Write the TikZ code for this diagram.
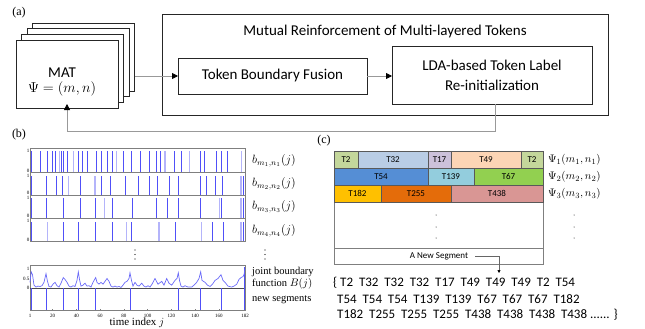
\documentclass[tikz,border=0pt]{standalone}
\usepackage{fontspec}
\setmainfont{Liberation Serif}
\newfontfamily\carl{Carlito}
\usetikzlibrary{arrows.meta,calc}
\definecolor{cT2}{HTML}{C4D79B}
\definecolor{cT32}{HTML}{B9CDE5}
\definecolor{cT17}{HTML}{CCC1DA}
\definecolor{cT49}{HTML}{FCD5B5}
\definecolor{cT54}{HTML}{558ED5}
\definecolor{cT139}{HTML}{93CDDD}
\definecolor{cT67}{HTML}{92D050}
\definecolor{cT182}{HTML}{FFC000}
\definecolor{cT255}{HTML}{E46C0A}
\definecolor{cT438}{HTML}{D99694}
\definecolor{spikeblue}{HTML}{5050F8}
\definecolor{lspikeblue}{HTML}{B4B4FA}
\definecolor{curveblue}{HTML}{6A6AF8}
\definecolor{frame}{HTML}{7F7F7F}
\tikzset{
  box/.style={draw=black!85, line width=0.8pt, fill=white, inner sep=0pt, outer sep=0pt},
  sans/.style={font=\carl\fontsize{15}{20}\selectfont},
  feed/.style={draw=black!40, line width=0.8pt, -{Triangle[black,length=6pt,width=6pt]}},
  cell/.style={draw=black!65, line width=0.5pt, inner sep=0pt, outer sep=0pt, minimum height=17pt, font=\carl\fontsize{9}{10}\selectfont},
  panel/.style={draw=frame, line width=0.6pt},
  tick/.style={font=\fontsize{5}{6}\selectfont, inner sep=0.5pt},
  blab/.style={anchor=west, font=\fontsize{12}{14}\selectfont, inner sep=0pt},
  slab/.style={anchor=west, font=\fontsize{10.5}{12}\selectfont, inner sep=0pt},
  plab/.style={font=\fontsize{12}{14}\selectfont, inner sep=0pt},
  toks/.style={anchor=west, font=\carl\fontsize{13}{14}\selectfont, inner sep=0pt}
}
\newcommand\spk[3]{\fill[spikeblue] (#1-0.5,#2) rectangle (#1+0.5,#3);}
\newcommand\lspk[3]{\fill[lspikeblue] (#1-0.6,#2) rectangle (#1+0.6,#3);}
\begin{document}
\begin{tikzpicture}[x=1pt,y=-1pt]
\useasboundingbox (0,0) rectangle (645,329);
% ---------------- (a)
\node[plab] (la) at (19,13) {(a)};
\node[box, minimum width=102pt, minimum height=68pt] (mat3) at (83.5,57) {};
\node[box, minimum width=102pt, minimum height=68pt] (mat2) at (78,62.6) {};
\node[box, minimum width=102pt, minimum height=68pt] (mat1) at (72.5,68.3) {};
\node[box, minimum width=102pt, minimum height=68pt, align=center] (mat) at (67,74) {};
\node[sans, inner sep=0pt] (mattxt) at (62,73) {MAT};
\node[font=\fontsize{14}{15}\selectfont, inner sep=0pt] (psi) at (62,89) {$\Psi=(m,n)$};
\node[box, minimum width=446pt, minimum height=101pt] (outer) at (385,64.5) {};
\node[sans] (title) at (385,32) {Mutual Reinforcement of Multi-layered Tokens};
\node[box, minimum width=189pt, minimum height=36pt, sans] (fusion) at (272.5,76) {Token Boundary Fusion};
\node[box, minimum width=200pt, minimum height=58pt, sans, align=center] (lda) at (492,75) {LDA-based Token Label\\Re-initialization};
\draw[feed] (fusion.west -| mat3.east) -- (fusion.west);
\draw[feed] (fusion.east) -- (fusion.east -| lda.west);
\coordinate (fb) at (67,131);
\draw[feed, shorten >=-4pt] ($(lda.south)+(3,0)$) |- (fb) -- (mat.south);
% ---------------- (b)
\node[plab] (lb) at (19,135) {(b)};
% panels
\foreach \t/\b [count=\i] in {148/172.7, 172.7/195, 195/218.3, 218.3/241.7}{
  \draw[panel] (30,\t) rectangle (245,\b);
  \node[tick, anchor=east] (p\i one) at (30,\t+3) {1};
  \node[tick, anchor=east] (p\i zero) at (30,\b-2) {0};
}
\foreach \x in {59.5,73.3,116.5,165,189.3,241.5}{\lspk{\x}{172.2}{150.5}}
\foreach \x in {31.7,40,47.2,52,55.5,61.5,63.3,67.7,78.3,82.3,87.3,96,101.7,107,112,123.5,131.5,140,149.3,156.2,160.7,174,181,200.3,204.3,216.7,221.7,227.7}{\spk{\x}{172.2}{150.5}}
\foreach \x in {68.3,95,241}{\lspk{\x}{194.5}{175.5}}
\foreach \x in {31.7,46.7,56,62,80,101.7,110,125.5,138.3,149.3,157.7,169.3,178.3,200.3,206.7,215,222.3,243.5}{\spk{\x}{194.5}{175.5}}
\foreach \x in {104.3,219.3,241}{\lspk{\x}{217.8}{198}}
\foreach \x in {31.7,46.7,63.3,80,95.7,112.3,132.3,156.7,167.3,178.3,200.3,221,243.5}{\spk{\x}{217.8}{198}}
\foreach \x in {47.7,126.7,159,201.7,241}{\lspk{\x}{241.2}{221.5}}
\foreach \x in {31,63.3,78.3,95.7,112.3,131.7,175.7,212.3,223.3,243.5}{\spk{\x}{241.2}{221.5}}
\node[blab] (b1) at (252,160.5) {$b_{m_1,n_1}(j)$};
\node[blab] (b2) at (252,184) {$b_{m_2,n_2}(j)$};
\node[blab] (b3) at (252,207) {$b_{m_3,n_3}(j)$};
\node[blab] (b4) at (252,230.5) {$b_{m_4,n_4}(j)$};
\foreach \y in {250,254.5,259}{
  \fill (135,\y) circle (0.55pt);
  \fill (265,\y) circle (0.55pt);
}
% bottom plot
\draw[panel] (30,265) rectangle (245,310);
\draw[black!70, line width=0.6pt] (30,288) -- (245,288);
\node[tick, anchor=east] (y1) at (30,269) {1};
\node[tick, anchor=east] (y05) at (30,279) {0.5};
\node[tick, anchor=east] (y0) at (30,288) {0};
\foreach \x in {31,46,63.3,78.3,95.7,130,178.3,200.7,221.7}{\spk{\x}{310}{288}}
\spk{244.5}{310}{267}
\begin{scope}[shift={(0,288)}, y=19pt]
\draw[curveblue, line width=0.7pt] plot coordinates {(30,0.3)(31.2,0.85)(32.5,0.7)(34,0.15)(36,0.05)(38,0.1)(40,0.08)(42,0.12)(44,0.3)(46,0.75)(47.5,0.35)(49,0.08)(51,0.05)(53,0.2)(55,0.3)(57,0.12)(59,0.05)(61,0.25)(63.3,0.55)(65,0.45)(67,0.3)(69,0.1)(71,0.05)(73,0.12)(75,0.08)(77,0.4)(78.3,0.85)(79.5,0.45)(81,0.1)(83,0.15)(85,0.25)(87,0.1)(89,0.12)(91,0.05)(93,0.3)(95.7,0.55)(97,0.3)(99,0.2)(101,0.3)(103,0.2)(105,0.35)(107,0.5)(109,0.35)(111,0.1)(113,0.05)(115,0.1)(117,0.05)(119,0.08)(121,0.03)(123,0.15)(125,0.3)(127,0.35)(129,0.5)(130,0.8)(131.5,0.4)(133,0.1)(135,0.3)(137,0.15)(139,0.1)(141.7,0.25)(144,0.1)(146,0.05)(148,0.12)(150,0.05)(152,0.2)(155,0.5)(158,0.2)(161.7,0.35)(164,0.15)(166.7,0.5)(169,0.25)(171.7,0.15)(175,0.4)(177,0.5)(178.3,0.8)(179.5,0.4)(181,0.1)(183,0.05)(185,0.12)(188,0.05)(191.7,0.05)(194,0.15)(196.7,0.3)(199,0.5)(200.7,0.85)(202,0.4)(205,0.3)(207.5,0.15)(210,0.08)(212.5,0.2)(215,0.4)(218,0.5)(221,0.7)(223,0.4)(225,0.3)(228,0.1)(231.7,0.05)(234,0.1)(236.7,0.2)(239,0.45)(241,0.55)(243,0.6)(244,0.7)(245,1.0)};
\end{scope}
\foreach \j/\x in {1/30,20/52.6,40/76.3,60/100.1,80/123.8,100/147.6,120/171.4,140/195.1,160/218.9,182/245}{
  \draw[frame, line width=0.4pt] (\x,310) -- (\x,308.5);
  \node[tick] (xt\j) at (\x,315.5) {\j};
}
\node[font=\fontsize{11}{12}\selectfont, inner sep=0pt] (tix) at (137,323) {time index $j$};
\node[slab] (jb1) at (252,272) {joint boundary};
\node[slab] (jb2) at (252,284) {function $B(j)$};
\node[slab] (ns) at (252,300) {new segments};
% ---------------- (c)
\node[plab] (lc) at (324,141) {(c)};
\draw[frame, line width=0.7pt] (334,202) rectangle (543,264);
\draw[frame, line width=0.7pt] (334,248) -- (543,248);
\node[cell, fill=cT2,  minimum width=24pt] (r1a) at (346,159.5) {T2};
\node[cell, fill=cT32, minimum width=70pt] (r1b) at (393,159.5) {T32};
\node[cell, fill=cT17, minimum width=23pt] (r1c) at (439.5,159.5) {T17};
\node[cell, fill=cT49, minimum width=70pt] (r1d) at (486,159.5) {T49};
\node[cell, fill=cT2,  minimum width=22pt] (r1e) at (532,159.5) {T2};
\node[cell, fill=cT54, minimum width=94pt] (r2a) at (381,176.5) {T54};
\node[cell, fill=cT139,minimum width=46pt] (r2b) at (451,176.5) {T139};
\node[cell, fill=cT67, minimum width=69pt] (r2c) at (508.5,176.5) {T67};
\node[cell, fill=cT182,minimum width=47pt] (r3a) at (357.5,193.5) {T182};
\node[cell, fill=cT255,minimum width=70pt] (r3b) at (416,193.5) {T255};
\node[cell, fill=cT438,minimum width=92pt] (r3c) at (497,193.5) {T438};
\node[slab, font=\fontsize{11}{12}\selectfont] (ps1) at (548,160) {$\Psi_1(m_1,n_1)$};
\node[slab, font=\fontsize{11}{12}\selectfont] (ps2) at (548,177) {$\Psi_2(m_2,n_2)$};
\node[slab, font=\fontsize{11}{12}\selectfont] (ps3) at (548,194) {$\Psi_3(m_3,n_3)$};
\foreach \y in {215,227,238}{
  \fill (436,\y) circle (0.5pt);
  \fill (574,\y) circle (0.5pt);
}
\node[font=\carl\fontsize{9}{10}\selectfont, inner sep=1pt] (newseg) at (439,256) {A New Segment};
\coordinate (nsend) at (499,273);
\draw[black!60, line width=0.6pt, -{Triangle[black,length=3pt,width=3pt]}] ([xshift=6pt]newseg.east) -| (nsend);
\node[toks] (tk1) at (333,283) {\{ T2\ \ T32\ \ T32\ \ T32\ \ T17\ \ T49\ \ T49\ \ T49\ \ T2\ \ T54};
\node[toks] (tk2) at (337,299) {T54\ \ T54\ \ T54\ \ T139\ \ T139\ \ T67\ \ T67\ \ T67\ \ T182};
\node[toks] (tk3) at (337,315) {T182\ \ T255\ \ T255\ \ T255\ \ T438\ \ T438\ \ T438\ \ T438 ...... \}};
\end{tikzpicture}
\end{document}
